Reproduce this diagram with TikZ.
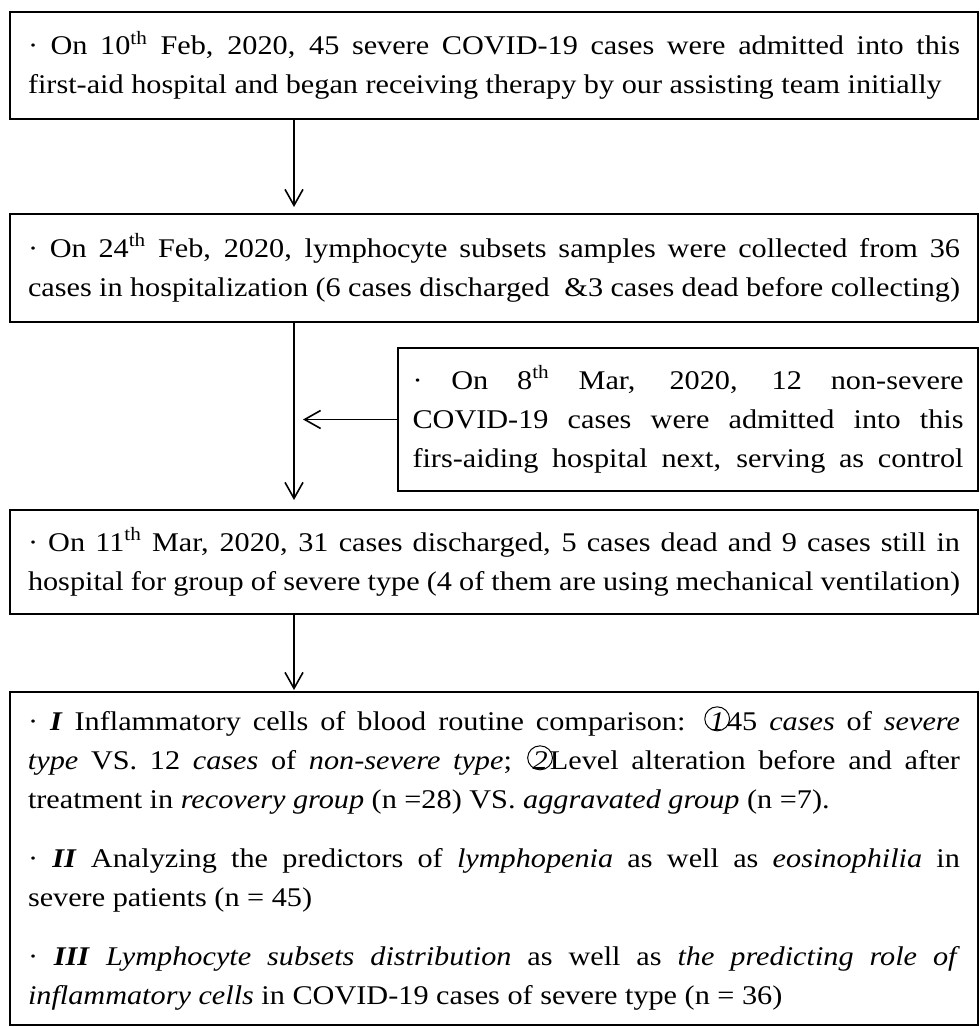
\documentclass[tikz,border=0pt]{standalone}
\usepackage{fontspec}
\setmainfont{Liberation Serif}[FakeStretch=1.12]
\usetikzlibrary{arrows.meta,positioning}
\newcommand{\circnum}[1]{\rlap{\tikz[baseline=-6pt]\draw[line width=0.5pt] (0,0) ellipse (6.2pt and 6pt);}\hbox to 12.9pt{\hfil\textit{#1}\hfil}\kern-1.5pt}

\begin{document}
\begin{tikzpicture}[every node/.style={font=\fontsize{13.5}{19.5}\selectfont},
box/.style={draw,line width=0.9pt,outer sep=0pt,inner xsep=9pt,inner ysep=0pt,text width=466pt,align=justify},
sidebox/.style={box,inner xsep=7.25pt,text width=275.5pt},
arrow/.style={-{Straight Barb[length=8pt,width=9pt]},line width=0.8pt}]
\useasboundingbox (0,0) rectangle (489.5pt,-513.5pt);
\node[box,minimum height=53.5pt,anchor=north] (admit) at (247pt,-6pt) {· On 10\textsuperscript{th} Feb, 2020, 45 severe COVID-19 cases were admitted into this\linebreak first-aid hospital and began receiving therapy by our assisting team initially};
\node[box,minimum height=54pt,below=47.5pt of admit] (sample) {· On 24\textsuperscript{th} Feb, 2020, lymphocyte subsets samples were collected from 36\linebreak cases in hospitalization (6 cases discharged \ \&3 cases dead before collecting)\parfillskip=0pt\par};
\node[sidebox,minimum height=71.5pt,below left=13pt and 0pt of sample.south east] (control) {· On 8\textsuperscript{th} Mar, 2020, 12 non-severe\linebreak COVID-19 cases were admitted into this\linebreak firs-aiding hospital next, serving as control\parfillskip=0pt\par};
\node[box,minimum height=52pt,below=94pt of sample] (outcome) {· On 11\textsuperscript{th} Mar, 2020, 31 cases discharged, 5 cases dead and 9 cases still in\linebreak hospital for group of severe type (4 of them are using mechanical ventilation)\parfillskip=0pt\par};
\node[box,minimum height=166.5pt,below=39pt of outcome] (analysis) {\parindent=0pt
· \textbf{\textit{I}} Inflammatory cells of blood routine comparison: \circnum{1}45 \textit{cases} of \textit{severe}\linebreak \textit{type} VS. 12 \textit{cases} of \textit{non}-\textit{severe type}; \circnum{2}Level alteration before and after\linebreak treatment in \textit{recovery group} (n =28) VS. \textit{aggravated group} (n =7).\par\vskip10pt
· \textbf{\textit{II}} Analyzing the predictors of \textit{lymphopenia} as well as \textit{eosinophilia} in\linebreak severe patients (n = 45)\par\vskip10pt
· \textbf{\textit{III}} \textit{Lymphocyte subsets distribution} as well as \textit{the predicting role of}\linebreak \textit{inflammatory cells} in COVID-19 cases of severe type (n = 36)};
\draw[arrow,shorten >=3.5pt] ([xshift=142pt]admit.south west) -- ([xshift=142pt]sample.north west);
\draw[arrow,shorten >=5pt] ([xshift=142pt]sample.south west) -- ([xshift=142pt]outcome.north west);
\draw[arrow,shorten >=1pt] ([xshift=142pt]outcome.south west) -- ([xshift=142pt]analysis.north west);
\draw[arrow] (control.west) -- ([xshift=146.5pt]control.west -| sample.west);
\end{tikzpicture}
\end{document}
